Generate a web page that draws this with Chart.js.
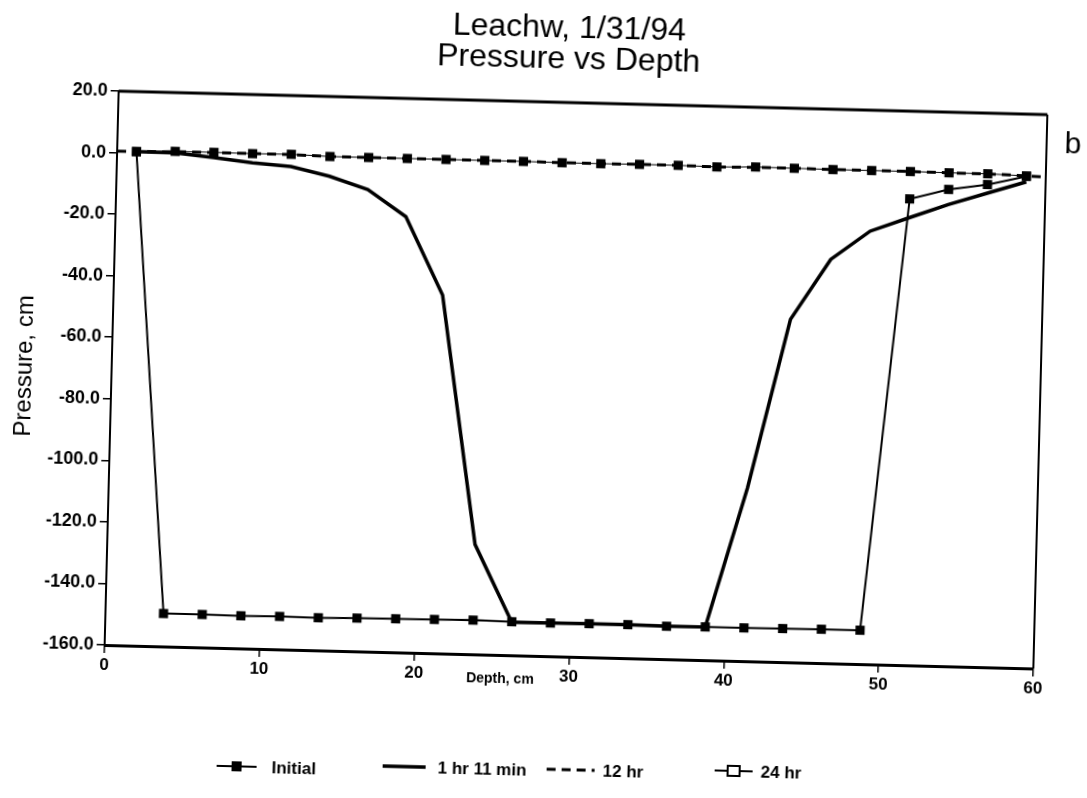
<!DOCTYPE html>
<html lang="en">
<head>
    <meta charset="UTF-8">
    <title>Leachw, 1/31/94 - Pressure vs Depth</title>
    <script src="https://cdn.jsdelivr.net/npm/chart.js"></script>
    <style>
        html, body {
            margin: 0;
            padding: 0;
            background: #fff;
            overflow: hidden;
        }
        /* the scanned page sits slightly skewed, so the whole chart is turned a little */
        .page {
            position: relative;
            width: 1087px;
            height: 798px;
            transform: rotate(1.45deg);
            transform-origin: 543.5px 399px;
        }
    </style>
</head>
<body>
    <div class="page">
        <canvas id="depthChart"></canvas>
    </div>

    <script>
        // node depths (cm) shared by Initial, 1 hr 11 min and 24 hr
        const depth = [1.25, 3.75, 6.25, 8.75, 11.25, 13.75, 16.25, 18.75, 21.25, 23.75, 26.25, 28.75,
                       31.25, 33.75, 36.25, 38.75, 41.25, 43.75, 46.25, 48.75, 51.25, 53.75, 56.25, 58.75];

        const initial = [0.5, -149.3, -149.3, -149.4, -149.3, -149.4, -149.2, -149.1, -149.0, -148.9, -149.1, -149.2,
                         -149.1, -149.1, -149.3, -149.2, -149.2, -149.1, -149.0, -149.0, -8.5, -5.1, -3.2, -0.2];

        const hr1min11 = [0.5, 0.4, -0.8, -2.2, -3.1, -5.9, -9.9, -18.4, -43.6, -124.3, -149.3, -149.2,
                          -149.1, -149.1, -149.3, -149.2, -103.7, -48.6, -28.8, -19.3, -14.6, -10.0, -6.0, -2.0];

        // 12 hr dashed line runs from axis to axis
        const depth12 = [0, 1.25, 3.75, 6.25, 8.75, 11.25, 13.75, 16.25, 18.75, 21.25, 23.75, 26.25, 28.75,
                         31.25, 33.75, 36.25, 38.75, 41.25, 43.75, 46.25, 48.75, 51.25, 53.75, 56.25, 58.75, 60];
        const hr12 = [0.5, 0.5, 0.8, 0.8, 0.8, 0.8, 0.5, 0.5, 0.5, 0.5, 0.5, 0.5, 0.4,
                      0.4, 0.5, 0.5, 0.3, 0.5, 0.5, 0.4, 0.4, 0.4, 0.3, 0.3, -0.1, -0.3];

        const hr24 = [0.5, 0.9, 0.9, 0.8, 0.9, 0.5, 0.5, 0.5, 0.5, 0.5, 0.5, 0.4,
                      0.4, 0.5, 0.5, 0.3, 0.6, 0.5, 0.4, 0.4, 0.4, 0.3, 0.3, -0.1];

        const xTicks = [0, 10, 20, 30, 40, 50, 60];
        const yTicks = [20, 0, -20, -40, -60, -80, -100, -120, -140, -160];

        const titleLines = ['Leachw, 1/31/94', 'Pressure vs Depth'];
        const seriesNames = ['Initial', '1 hr 11 min', '12 hr', '24 hr'];

        const FONT = "'Liberation Sans', Arial, Helvetica, sans-serif";

        function toPoints(xs, ys) {
            return xs.map((x, i) => ({ x: x, y: ys[i] }));
        }

        // title, panel letter, x-axis caption, frame and the legend row
        const decor = {
            id: 'decor',
            afterDraw(chart) {
                const ctx = chart.ctx;
                const a = chart.chartArea;
                ctx.save();

                // top and right edges of the frame
                ctx.strokeStyle = '#000';
                ctx.lineWidth = 3;
                ctx.beginPath();
                ctx.moveTo(a.left, a.top);
                ctx.lineTo(a.right, a.top);
                ctx.stroke();
                ctx.lineWidth = 2;
                ctx.beginPath();
                ctx.moveTo(a.right, a.top);
                ctx.lineTo(a.right, a.bottom);
                ctx.stroke();

                ctx.fillStyle = '#000';
                ctx.textAlign = 'center';
                ctx.textBaseline = 'alphabetic';
                ctx.font = '32px ' + FONT;
                ctx.fillText(titleLines[0], 560, 37);
                ctx.fillText(titleLines[1], 560, 68);

                ctx.font = '30px ' + FONT;
                ctx.textAlign = 'left';
                ctx.fillText('b', 1058, 140);

                ctx.font = 'bold 14px ' + FONT;
                ctx.textAlign = 'center';
                ctx.textBaseline = 'middle';
                ctx.fillText('Depth, cm', 507, 680);

                // legend
                const ds = chart.data.datasets;
                const items = [
                    { x0: 226, x1: 266, tx: 281, y: 774, marker: 'filled' },
                    { x0: 392, x1: 435, tx: 447, y: 770, marker: null },
                    { x0: 556, x1: 604, tx: 612, y: 769, marker: null },
                    { x0: 724, x1: 762, tx: 770, y: 766, marker: 'open' }
                ];
                ctx.font = 'bold 17px ' + FONT;
                ctx.textAlign = 'left';
                items.forEach((it, i) => {
                    const d = ds[i];
                    ctx.strokeStyle = '#000';
                    ctx.lineWidth = Math.max(2, d.borderWidth);
                    ctx.setLineDash(d.borderDash || []);
                    ctx.beginPath();
                    ctx.moveTo(it.x0, it.y);
                    ctx.lineTo(it.x1, it.y);
                    ctx.stroke();
                    ctx.setLineDash([]);
                    const cx = (it.x0 + it.x1) / 2;
                    if (it.marker === 'filled') {
                        ctx.fillRect(cx - 5, it.y - 5, 10, 10);
                    } else if (it.marker === 'open') {
                        ctx.fillStyle = '#fff';
                        ctx.fillRect(cx - 6, it.y - 5, 12, 10);
                        ctx.fillStyle = '#000';
                        ctx.lineWidth = 2;
                        ctx.strokeRect(cx - 6, it.y - 5, 12, 10);
                    }
                    ctx.fillText(seriesNames[i], it.tx, it.y + 1);
                });

                ctx.restore();
            }
        };

        const ctx = document.getElementById('depthChart').getContext('2d');
        const depthChart = new Chart(ctx, {
            type: 'line',
            data: {
                datasets: [{
                    label: seriesNames[0],
                    data: toPoints(depth, initial),
                    borderColor: '#000',
                    backgroundColor: '#000',
                    borderWidth: 2,
                    pointStyle: 'rect',
                    pointRadius: 6.5,
                    pointBackgroundColor: '#000',
                    pointBorderWidth: 0
                }, {
                    label: seriesNames[1],
                    data: toPoints(depth, hr1min11),
                    borderColor: '#000',
                    borderWidth: 3.5,
                    pointRadius: 0
                }, {
                    label: seriesNames[2],
                    data: toPoints(depth12, hr12),
                    borderColor: '#000',
                    borderWidth: 3,
                    borderDash: [9, 6],
                    pointRadius: 0
                }, {
                    label: seriesNames[3],
                    data: toPoints(depth, hr24),
                    borderColor: '#000',
                    borderWidth: 1,
                    pointStyle: 'rect',
                    pointRadius: 6.5,
                    pointBackgroundColor: '#000',
                    pointBorderWidth: 0
                }]
            },
            options: {
                responsive: true,
                maintainAspectRatio: false,
                animation: false,
                layout: {
                    padding: { top: 102, right: 47, left: 0, bottom: 0 }
                },
                plugins: {
                    legend: { display: false },
                    title: { display: false },
                    tooltip: { enabled: false }
                },
                scales: {
                    x: {
                        type: 'linear',
                        min: xTicks[0],
                        max: xTicks[xTicks.length - 1],
                        afterBuildTicks: s => { s.ticks = xTicks.map(v => ({ value: v })); },
                        afterFit: s => { s.height = 142; },
                        ticks: {
                            color: '#000',
                            padding: 2,
                            maxRotation: 0,
                            font: { family: FONT, size: 17, weight: 'bold' }
                        },
                        grid: {
                            drawOnChartArea: false,
                            tickLength: 8,
                            color: '#000',
                            lineWidth: 1.5
                        },
                        border: { color: '#000', width: 3 }
                    },
                    y: {
                        min: yTicks[yTicks.length - 1],
                        max: yTicks[0],
                        afterBuildTicks: s => { s.ticks = yTicks.map(v => ({ value: v })); },
                        afterFit: s => { s.width = 111; },
                        ticks: {
                            color: '#000',
                            padding: 3,
                            callback: v => v.toFixed(1),
                            font: { family: FONT, size: 18, weight: 'bold' }
                        },
                        grid: {
                            drawOnChartArea: false,
                            tickLength: 8,
                            color: '#000',
                            lineWidth: 1.5
                        },
                        border: { color: '#000', width: 2 },
                        title: {
                            display: true,
                            text: 'Pressure, cm',
                            color: '#000',
                            padding: { top: 10, bottom: 0 },
                            font: { family: FONT, size: 24 }
                        }
                    }
                }
            },
            plugins: [decor]
        });
    </script>
</body>
</html>
